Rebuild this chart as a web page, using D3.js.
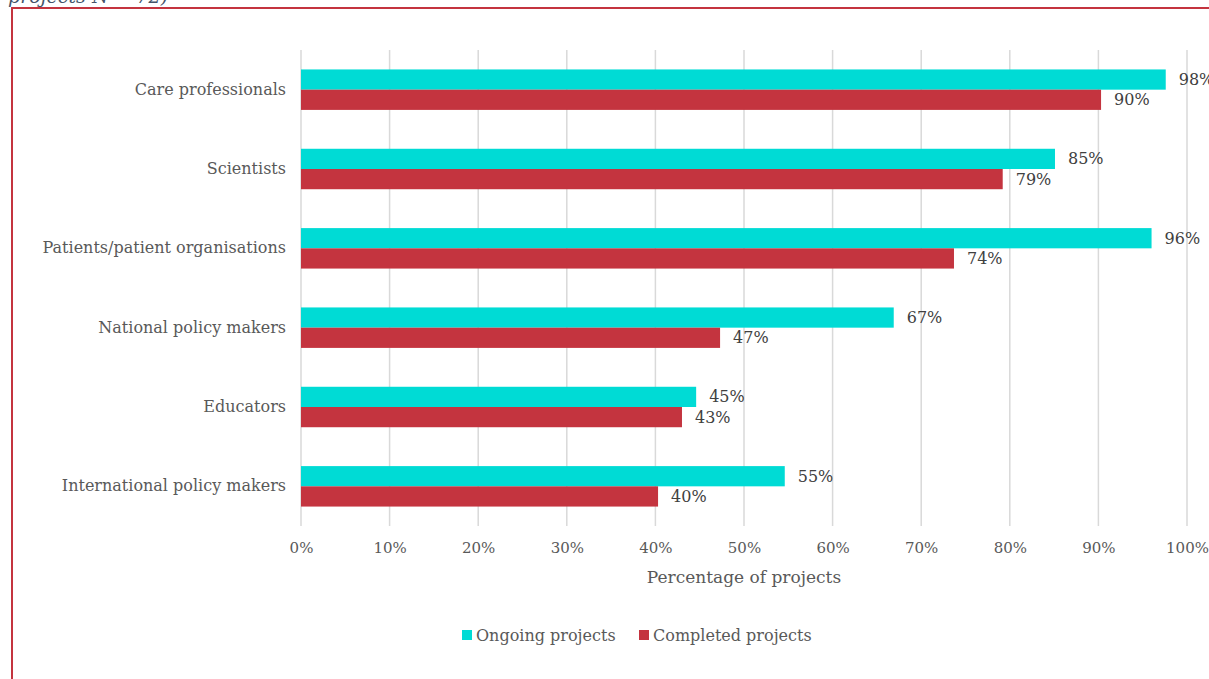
<!DOCTYPE html>
<html><head><meta charset="utf-8">
<script src="https://cdn.jsdelivr.net/npm/d3@7"></script>
<style>
html,body{margin:0;padding:0;background:#fff;overflow:hidden;}
svg{display:block;}
</style></head>
<body>
<script>
const categories = ["Care professionals","Scientists","Patients/patient organisations","National policy makers","Educators","International policy makers"];
const seriesNames = ["Ongoing projects","Completed projects"];
const ongoing = [97.6, 85.1, 96.0, 66.9, 44.6, 54.6];
const completed = [90.3, 79.2, 73.7, 47.3, 43.0, 40.3];
const ongoingLabels = ["98%","85%","96%","67%","45%","55%"];
const completedLabels = ["90%","79%","74%","47%","43%","40%"];
const tickValues = [0,10,20,30,40,50,60,70,80,90,100];
const colors = ["#00dbd5","#c4343f"];

const W = 1209, H = 679;
const FONT = "Georgia, 'DejaVu Serif', serif";
const svg = d3.select("body").append("svg").attr("width", W).attr("height", H);

// frame
svg.append("rect").attr("x",12).attr("y",8).attr("width",W+20).attr("height",H+20)
  .attr("fill","none").attr("stroke","#c4343f").attr("stroke-width",2);
svg.append("text").attr("x",8).attr("y",3).attr("font-family",FONT).attr("font-style","italic")
  .attr("font-size",19).attr("fill","#44546a").text("projects N = 72)");

const x = d3.scaleLinear().domain([0,100]).range([301,1187]);
const y0 = d3.scaleBand().domain(categories).range([50,526]).paddingInner(0.49).paddingOuter(0.245);
const y1 = d3.scaleBand().domain(seriesNames).range([0,y0.bandwidth()]);

// gridlines
svg.append("g").selectAll("line").data(tickValues).join("line")
  .attr("x1",d=>x(d)).attr("x2",d=>x(d)).attr("y1",50).attr("y2",526)
  .attr("stroke","#d9d9d9").attr("stroke-width",1.5);

const xAxis = svg.append("g").attr("transform","translate(0,526)")
  .call(d3.axisBottom(x).tickValues(tickValues).tickFormat(d=>d+"%").tickSize(0).tickPadding(16));
xAxis.select(".domain").remove();
xAxis.selectAll("text").attr("font-family",FONT).attr("font-size",15).attr("fill","#595959");

const yAxis = svg.append("g").attr("transform","translate(286,0)")
  .call(d3.axisLeft(y0).tickSize(0).tickPadding(0));
yAxis.select(".domain").remove();
yAxis.selectAll("text").attr("font-family",FONT).attr("font-size",16).attr("fill","#595959");

const data = [ongoing, completed];
const labs = [ongoingLabels, completedLabels];
seriesNames.forEach((s,si)=>{
  const g = svg.append("g");
  g.selectAll("rect").data(categories).join("rect")
    .attr("x",x(0)).attr("y",c=>y0(c)+y1(s))
    .attr("width",(c,i)=>x(data[si][i])-x(0)).attr("height",y1.bandwidth())
    .attr("fill",colors[si]);
  g.selectAll("text").data(categories).join("text")
    .attr("x",(c,i)=>x(data[si][i])+13).attr("y",c=>y0(c)+y1(s)+y1.bandwidth()/2)
    .attr("dy","0.35em").attr("font-family",FONT).attr("font-size",16).attr("fill","#404040")
    .text((c,i)=>labs[si][i]);
});

svg.append("text").attr("x",744).attr("y",583).attr("text-anchor","middle")
  .attr("font-family",FONT).attr("font-size",17).attr("fill","#595959").text("Percentage of projects");

// legend
const leg = [{x:462},{x:639}];
seriesNames.forEach((s,i)=>{
  svg.append("rect").attr("x",leg[i].x).attr("y",630).attr("width",10).attr("height",10).attr("fill",colors[i]);
  svg.append("text").attr("x",leg[i].x+14).attr("y",635).attr("dy","0.35em")
    .attr("font-family",FONT).attr("font-size",16).attr("fill","#595959").text(s);
});
</script>
</body></html>
